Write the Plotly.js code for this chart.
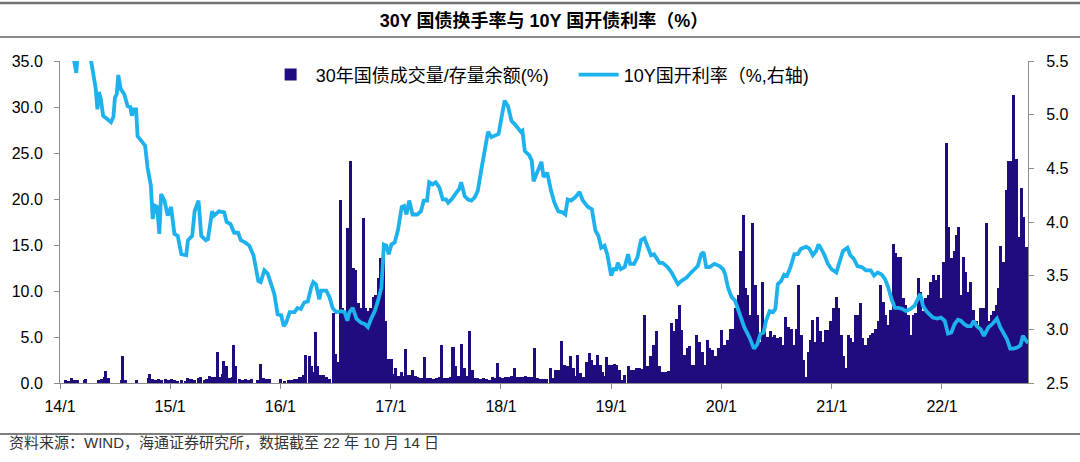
<!DOCTYPE html>
<html><head><meta charset="utf-8">
<script src="https://cdn.plot.ly/plotly-3.0.1.min.js"></script>
<style>html,body{margin:0;padding:0;background:#fff}#chart{width:1080px;height:462px}</style>
</head><body><div id="chart"></div>
<script>
// ---- data ----
const barDates = [
 '2014-01-20','2014-01-29','2014-02-09','2014-02-19','2014-02-28','2014-03-22','2014-03-28','2014-05-07','2014-05-17','2014-05-27','2014-06-02','2014-06-10','2014-07-23','2014-07-28','2014-08-05','2014-09-11','2014-10-21','2014-10-26','2014-11-03','2014-11-13','2014-11-23','2014-12-03','2014-12-16','2014-12-26',
 '2015-01-06','2015-01-16','2015-01-26','2015-02-08','2015-02-21','2015-03-01','2015-03-11','2015-03-24','2015-04-04','2015-04-10','2015-04-24','2015-05-03','2015-05-10','2015-05-17','2015-05-23','2015-06-03','2015-06-08','2015-06-16','2015-06-23','2015-06-28','2015-07-05','2015-07-15','2015-07-25','2015-07-30','2015-08-06','2015-08-18','2015-08-28','2015-09-07','2015-09-17','2015-09-27','2015-10-17','2015-10-27','2015-11-06','2015-11-16','2015-11-26',
 '2016-01-02','2016-01-15','2016-01-28','2016-02-08','2016-02-18','2016-02-27','2016-03-04','2016-03-10','2016-03-17','2016-03-25','2016-04-05','2016-04-13','2016-04-20','2016-04-26','2016-05-03','2016-05-13','2016-05-23','2016-06-02','2016-06-12','2016-06-24','2016-07-02','2016-07-10','2016-07-18','2016-07-26','2016-08-04','2016-08-12','2016-08-21','2016-08-29','2016-09-07','2016-09-15','2016-09-23','2016-10-01','2016-10-09','2016-10-18','2016-10-26','2016-11-04','2016-11-12','2016-11-20','2016-11-29','2016-12-07','2016-12-15','2016-12-23',
 '2017-01-02','2017-01-10','2017-01-18','2017-01-26','2017-02-04','2017-02-12','2017-02-20','2017-02-28','2017-03-07','2017-03-15','2017-03-23','2017-04-01','2017-04-09','2017-04-17','2017-04-24','2017-05-02','2017-05-12','2017-05-22','2017-06-01','2017-06-11','2017-06-18','2017-06-28','2017-07-07','2017-07-17','2017-07-26','2017-08-03','2017-08-13','2017-08-23','2017-09-01','2017-09-09','2017-09-19','2017-09-27','2017-10-05','2017-10-15','2017-10-25','2017-11-05','2017-11-15','2017-11-25','2017-12-04','2017-12-14','2017-12-19','2017-12-27',
 '2018-01-07','2018-01-17','2018-01-27','2018-02-06','2018-02-15','2018-02-23','2018-03-02','2018-03-12','2018-03-22','2018-04-02','2018-04-12','2018-04-22','2018-05-01','2018-05-11','2018-05-21','2018-06-01','2018-06-14','2018-06-24','2018-06-30','2018-07-10','2018-07-20','2018-07-30','2018-08-09','2018-08-19','2018-08-29','2018-09-06','2018-09-12','2018-09-22','2018-10-02','2018-10-10','2018-10-20','2018-10-28','2018-11-06','2018-11-16','2018-11-25','2018-12-03','2018-12-11','2018-12-18','2018-12-26',
 '2019-01-03','2019-01-11','2019-01-19','2019-01-28','2019-02-06','2019-02-15','2019-02-27','2019-03-05','2019-03-15','2019-03-25','2019-04-04','2019-04-14','2019-04-22','2019-04-30','2019-05-11','2019-05-22','2019-06-01','2019-06-11','2019-06-19','2019-06-29','2019-07-09','2019-07-19','2019-07-27','2019-08-05','2019-08-15','2019-08-23','2019-09-02','2019-09-11','2019-09-19','2019-09-27','2019-10-05','2019-10-12','2019-10-20','2019-10-30','2019-11-08','2019-11-16','2019-11-24','2019-12-02','2019-12-12','2019-12-22',
 '2020-01-02','2020-01-12','2020-01-22','2020-02-02','2020-02-10','2020-02-18','2020-02-26','2020-03-04','2020-03-13','2020-03-21','2020-03-29','2020-04-07','2020-04-14','2020-04-22','2020-04-29','2020-05-07','2020-05-15','2020-05-23','2020-06-03','2020-06-13','2020-06-20','2020-06-26','2020-07-05','2020-07-15','2020-07-22','2020-08-01','2020-08-11','2020-08-21','2020-08-28','2020-09-06','2020-09-12','2020-09-21','2020-09-29','2020-10-07','2020-10-15','2020-10-22','2020-10-30','2020-11-08','2020-11-16','2020-11-24','2020-12-02','2020-12-11','2020-12-19','2020-12-27',
 '2021-01-07','2021-01-15','2021-01-23','2021-02-01','2021-02-09','2021-02-17','2021-02-25','2021-03-04','2021-03-12','2021-03-20','2021-03-29','2021-04-06','2021-04-14','2021-04-23','2021-05-01','2021-05-09','2021-05-17','2021-05-26','2021-06-04','2021-06-12','2021-06-20','2021-06-28','2021-07-06','2021-07-15','2021-07-23','2021-08-01','2021-08-09','2021-08-17','2021-08-26','2021-09-03','2021-09-11','2021-09-20','2021-09-28','2021-10-06','2021-10-14','2021-10-22','2021-11-01','2021-11-09','2021-11-17','2021-11-25','2021-12-03','2021-12-12','2021-12-20','2021-12-28',
 '2022-01-06','2022-01-16','2022-01-24','2022-02-02','2022-02-10','2022-02-18','2022-02-26','2022-03-05','2022-03-13','2022-03-21','2022-03-29','2022-04-07','2022-04-16','2022-04-24','2022-05-02','2022-05-10','2022-05-18','2022-05-27','2022-06-05','2022-06-13','2022-06-21','2022-06-29','2022-07-07','2022-07-15','2022-07-24','2022-08-02','2022-08-10','2022-08-18','2022-08-26','2022-09-04','2022-09-12','2022-09-20','2022-09-29','2022-10-07'
];
const barValues = [
 0.3,0.2,0.5,0.3,0.3,0.3,0.4,0.3,0.4,0.6,1.35,0.5,0.3,2.9,0.3,0.3,0.5,1.0,0.4,0.3,0.4,0.3,0.4,0.3,
 0.4,0.3,0.2,0.3,0.2,0.5,0.4,0.3,0.5,0.7,0.3,0.4,0.75,0.7,0.6,0.7,3.4,0.7,1.0,2.4,1.8,0.5,0.6,4.1,1.9,0.4,0.3,0.4,0.3,0.4,0.3,2.1,0.5,0.4,0.4,
 0.4,0.2,0.3,0.3,0.4,0.4,0.6,0.7,0.9,3.0,2.9,1.8,1.2,5.5,1.8,0.9,0.9,0.7,0.4,7.6,3.2,2.3,19.9,8.1,7.8,16.8,24.1,12.5,12.3,8.7,8.1,17.9,8.1,7.8,8.1,9.4,9.6,11.4,13.6,13.7,6.7,2.6,
 2.6,1.0,1.6,0.8,1.2,0.8,3.7,0.9,0.9,1.4,0.8,0.6,0.5,0.5,2.8,0.5,0.5,0.4,0.5,0.6,4.1,0.5,0.5,0.6,3.9,1.8,0.8,4.2,1.6,0.8,5.6,1.4,0.5,0.5,0.4,0.5,0.4,0.3,0.6,0.5,2.2,0.6,
 0.5,0.7,0.6,0.8,1.6,0.7,0.7,0.6,0.8,0.7,0.7,3.8,0.5,0.4,0.4,0.4,1.6,0.5,1.4,1.4,4.6,2.0,1.8,2.9,1.6,0.8,3.0,1.1,0.7,2.3,3.3,2.5,2.0,3.0,2.0,1.2,0.8,2.8,2.0,
 2.0,2.1,2.0,1.4,0.3,0.9,1.8,1.4,1.4,1.6,1.6,1.5,7.4,1.8,2.9,4.1,5.6,1.8,1.2,1.2,1.3,6.5,5.6,7.0,8.5,5.8,3.0,3.8,4.0,2.0,2.0,5.2,4.5,3.4,2.0,4.7,3.8,3.6,2.9,3.8,
 5.8,4.1,4.7,5.9,5.9,8.1,9.6,14.3,18.3,10.3,9.6,7.4,17.4,10.7,7.4,4.5,11.0,5.6,5.0,5.6,5.0,5.2,4.9,5.0,4.1,7.2,6.1,5.9,4.1,5.9,10.7,5.2,2.5,0.7,3.4,4.7,6.8,4.5,7.2,5.6,4.5,5.8,5.8,6.7,
 8.1,9.3,8.1,5.2,2.9,1.6,5.2,4.9,4.5,7.4,7.4,8.7,4.9,4.1,4.9,5.2,5.4,5.9,6.7,10.7,8.8,7.4,6.3,7.9,15.1,14.1,13.7,13.7,9.2,8.5,7.4,5.2,7.4,7.6,11.4,9.9,7.8,9.2,9.6,11.0,11.7,11.2,11.7,9.2,
 13.2,26.1,17.0,13.6,14.3,16.1,17.0,9.6,13.7,12.1,9.9,11.0,7.9,6.7,6.3,8.1,8.1,17.4,6.7,7.4,7.8,8.5,10.3,14.9,13.2,21.0,24.1,24.1,31.3,24.3,15.9,21.2,18.0,14.8
];
const lineDates = [
 '2014-01-01','2014-01-19','2014-02-09','2014-02-24','2014-03-02','2014-03-21','2014-04-14','2014-04-29','2014-05-05','2014-05-10','2014-05-16','2014-05-24','2014-06-08','2014-06-19','2014-06-27','2014-07-02','2014-07-08','2014-07-13','2014-07-21','2014-08-02','2014-08-13','2014-08-22','2014-08-27','2014-09-02','2014-09-10','2014-09-15','2014-10-02','2014-10-10','2014-10-18','2014-10-29','2014-11-04','2014-11-12','2014-11-19','2014-11-26','2014-12-02','2014-12-13','2014-12-24',
 '2015-01-04','2015-01-15','2015-01-26','2015-02-07','2015-02-23','2015-03-01','2015-03-15','2015-03-23','2015-04-05','2015-04-14','2015-04-29','2015-05-06','2015-05-20','2015-05-26','2015-06-12','2015-06-29','2015-07-07','2015-07-20','2015-08-01','2015-08-14','2015-08-23','2015-09-06','2015-09-20','2015-10-04','2015-10-20','2015-10-28','2015-11-09','2015-11-20','2015-12-01','2015-12-12','2015-12-23',
 '2016-01-04','2016-01-12','2016-01-20','2016-02-01','2016-02-17','2016-02-27','2016-03-09','2016-03-20','2016-04-01','2016-04-12','2016-04-19','2016-04-28','2016-05-09','2016-05-15','2016-06-01','2016-06-12','2016-06-22','2016-07-04','2016-07-20','2016-08-01','2016-08-10','2016-08-17','2016-08-28','2016-09-09','2016-09-25','2016-10-06','2016-10-17','2016-10-28','2016-11-09','2016-11-19','2016-12-01','2016-12-09','2016-12-17','2016-12-25',
 '2017-01-03','2017-01-14','2017-01-25','2017-02-06','2017-02-14','2017-02-22','2017-03-03','2017-03-14','2017-03-30','2017-04-11','2017-04-20','2017-05-01','2017-05-08','2017-05-19','2017-05-30','2017-06-11','2017-06-22','2017-07-03','2017-07-10','2017-07-21','2017-08-06','2017-08-16','2017-08-22','2017-09-03','2017-09-14','2017-09-25','2017-10-06','2017-10-16','2017-10-28','2017-11-08','2017-11-19','2017-11-30','2017-12-11','2017-12-24',
 '2018-01-02','2018-01-13','2018-01-24','2018-02-05','2018-02-16','2018-02-25','2018-03-08','2018-03-13','2018-03-21','2018-04-05','2018-04-13','2018-04-19','2018-04-30','2018-05-08','2018-05-15','2018-05-22','2018-06-03','2018-06-16','2018-06-27','2018-07-10','2018-07-24','2018-08-02','2018-08-10','2018-08-21','2018-09-04','2018-09-18','2018-09-29','2018-10-16','2018-10-29','2018-11-10','2018-11-20','2018-11-29','2018-12-10','2018-12-19',
 '2019-01-01','2019-01-09','2019-01-18','2019-01-23','2019-02-02','2019-02-15','2019-02-26','2019-03-05','2019-03-18','2019-03-29','2019-04-10','2019-04-21','2019-05-01','2019-05-13','2019-05-23','2019-06-10','2019-06-20','2019-07-07','2019-07-20','2019-07-29','2019-08-10','2019-08-21','2019-09-07','2019-09-23','2019-10-04','2019-10-15','2019-10-26','2019-11-03','2019-11-12','2019-11-23','2019-12-09','2019-12-26',
 '2020-01-07','2020-01-14','2020-01-23','2020-02-04','2020-02-15','2020-02-23','2020-03-07','2020-03-17','2020-04-04','2020-04-18','2020-04-29','2020-05-10','2020-05-20','2020-05-28','2020-06-09','2020-06-20','2020-06-28','2020-07-06','2020-07-17','2020-07-27','2020-08-06','2020-08-17','2020-08-30','2020-09-10','2020-09-21','2020-10-08','2020-10-19','2020-10-30','2020-11-10','2020-11-18','2020-11-27','2020-12-08','2020-12-19','2020-12-31',
 '2021-01-16','2021-01-27','2021-02-07','2021-02-22','2021-03-03','2021-03-14','2021-03-27','2021-04-10','2021-04-24','2021-05-10','2021-05-21','2021-06-02','2021-06-15','2021-06-26','2021-07-07','2021-07-18','2021-07-29','2021-08-10','2021-08-23','2021-09-04','2021-09-19','2021-10-02','2021-10-13','2021-10-21','2021-10-30','2021-11-10','2021-11-21','2021-12-02','2021-12-16','2021-12-29',
 '2022-01-10','2022-01-21','2022-02-01','2022-02-12','2022-02-23','2022-03-04','2022-03-15','2022-03-26','2022-04-07','2022-04-16','2022-04-26','2022-05-09','2022-05-20','2022-06-04','2022-06-17','2022-07-02','2022-07-13','2022-07-24','2022-08-04','2022-08-15','2022-08-26','2022-09-07','2022-09-18','2022-09-26','2022-10-03','2022-10-13'
];
const lineValues = [
 5.80,5.72,5.62,5.39,5.62,5.75,5.50,5.25,5.05,5.21,5.15,4.99,4.96,4.93,4.98,5.16,5.19,5.37,5.24,5.19,5.08,5.07,4.99,5.05,5.05,4.80,4.74,4.71,4.51,4.34,4.03,4.15,4.14,3.89,4.26,4.20,4.06,
 4.14,3.89,3.87,3.70,3.69,3.83,3.87,4.10,4.20,3.87,3.83,3.84,4.10,4.06,4.10,4.09,4.00,3.98,3.90,3.90,3.83,3.81,3.78,3.69,3.45,3.44,3.55,3.52,3.41,3.33,3.14,
 3.13,3.03,3.06,3.16,3.16,3.20,3.19,3.25,3.26,3.39,3.44,3.42,3.28,3.36,3.36,3.30,3.20,3.16,3.17,3.16,3.08,3.16,3.20,3.10,3.06,3.05,3.02,3.10,3.17,3.26,3.39,3.79,3.78,3.70,
 3.79,3.81,3.93,4.14,4.15,4.07,4.20,4.07,4.07,4.10,4.20,4.20,4.37,4.35,4.37,4.32,4.21,4.21,4.18,4.21,4.28,4.31,4.37,4.24,4.21,4.20,4.23,4.29,4.49,4.66,4.84,4.79,4.80,4.82,
 4.96,5.13,5.08,4.94,4.91,4.88,4.84,4.85,4.66,4.62,4.57,4.38,4.45,4.52,4.56,4.42,4.46,4.29,4.18,4.10,4.09,4.07,4.21,4.20,4.23,4.28,4.20,4.14,4.12,3.92,3.87,3.76,3.78,3.70,
 3.50,3.56,3.56,3.62,3.56,3.58,3.70,3.61,3.61,3.67,3.83,3.85,3.78,3.69,3.70,3.62,3.62,3.58,3.53,3.48,3.42,3.45,3.48,3.53,3.56,3.59,3.70,3.72,3.58,3.58,3.61,3.59,
 3.56,3.51,3.39,3.30,3.27,3.20,3.08,3.02,2.92,2.82,2.86,2.96,2.97,3.08,3.17,3.16,3.19,3.42,3.45,3.51,3.50,3.58,3.70,3.70,3.75,3.77,3.75,3.69,3.73,3.79,3.75,3.69,3.61,3.56,
 3.53,3.64,3.73,3.76,3.69,3.66,3.59,3.58,3.55,3.55,3.50,3.53,3.51,3.47,3.39,3.28,3.20,3.20,3.19,3.17,3.19,3.22,3.28,3.33,3.22,3.17,3.14,3.11,3.10,3.11,
 3.08,2.96,2.97,3.05,3.09,3.08,3.05,3.03,3.03,3.08,3.03,3.00,2.94,3.02,3.05,3.10,3.02,2.96,2.91,2.82,2.82,2.83,2.85,2.94,2.91,2.87
];
const yearTicks = ['2014-01-01','2015-01-01','2016-01-01','2017-01-01','2018-01-01','2019-01-01','2020-01-01','2021-01-01','2022-01-01'];
const yearLabels = ['14/1','15/1','16/1','17/1','18/1','19/1','20/1','21/1','22/1'];
const barName = '30年国债成交量/存量余额(%)\u00a0\u00a0\u00a0\u00a0';
const lineName = '10Y国开利率（%,右轴)';
const titleText = '30Y 国债换手率与 10Y 国开债利率（%）';
const sourceText = '资料来源：WIND，海通证券研究所，数据截至 22 年 10 月 14 日';

if (barDates.length !== barValues.length) console.error('bar length mismatch', barDates.length, barValues.length);
if (lineDates.length !== lineValues.length) console.error('line length mismatch', lineDates.length, lineValues.length);

// ---- chart ----
const FONT = 'Liberation Sans, Noto Sans CJK SC, sans-serif';
const DAY = 86400000;

const traces = [
  {
    type: 'bar', name: barName, x: barDates, y: barValues,
    width: 10 * DAY,
    marker: { color: '#200C7E', line: { width: 0 } },
    yaxis: 'y', hoverinfo: 'x+y'
  },
  {
    type: 'scatter', mode: 'lines', name: lineName, x: lineDates, y: lineValues,
    line: { color: '#1DB1ED', width: 3.8 },
    yaxis: 'y2', hoverinfo: 'x+y'
  }
];

const axisCommon = {
  showgrid: false, zeroline: false, showline: true, linecolor: '#8c8c8c', linewidth: 1,
  ticks: 'outside', ticklen: 5, tickcolor: '#8c8c8c', tickwidth: 1,
  tickfont: { family: FONT, size: 16, color: '#000' }
};

const layout = {
  width: 1080, height: 462,
  margin: { l: 60, r: 52, t: 61, b: 79, pad: 0 },
  paper_bgcolor: '#fff', plot_bgcolor: '#fff',
  font: { family: FONT, color: '#000' },
  title: {
    text: titleText, x: 0.5, xanchor: 'center', xref: 'paper',
    y: 1 - 21 / 462, yref: 'container', yanchor: 'middle',
    font: { family: FONT, size: 18, color: '#000', weight: 'bold' }
  },
  showlegend: true,
  legend: {
    orientation: 'h', x: 0.496, xanchor: 'center', y: 0.957, yanchor: 'middle',
    font: { family: FONT, size: 18, color: '#000' },
    itemwidth: 40,
    bgcolor: 'rgba(0,0,0,0)', traceorder: 'normal'
  },
  bargap: 0,
  xaxis: Object.assign({}, axisCommon, {
    type: 'date', range: ['2014-01-01', '2022-10-13'],
    tickmode: 'array', tickvals: yearTicks, ticktext: yearLabels,
    ticklabelstandoff: 4
  }),
  yaxis: Object.assign({}, axisCommon, {
    range: [0, 35], tickmode: 'linear', tick0: 0, dtick: 5, tickformat: '.1f',
    ticklabelstandoff: 8
  }),
  yaxis2: Object.assign({}, axisCommon, {
    overlaying: 'y', side: 'right',
    range: [2.5, 5.5], tickmode: 'linear', tick0: 2.5, dtick: 0.5, tickformat: '.1f',
    ticklabelstandoff: 9
  }),
  shapes: [
    { type: 'line', xref: 'paper', yref: 'paper', x0: -0.062, x1: 1.054, y0: (383 - 3) / 322, y1: (383 - 3) / 322, line: { color: '#707070', width: 2.5 } },
    { type: 'line', xref: 'paper', yref: 'paper', x0: -0.062, x1: 1.054, y0: (383 - 37) / 322, y1: (383 - 37) / 322, line: { color: '#8a8a8a', width: 2 } },
    { type: 'line', xref: 'paper', yref: 'paper', x0: -0.062, x1: 1.054, y0: (383 - 434) / 322, y1: (383 - 434) / 322, line: { color: '#555', width: 1.5 } }
  ],
  annotations: [
    { text: sourceText, xref: 'paper', yref: 'paper', x: (7 - 60) / 968, xanchor: 'left', y: (383 - 443) / 322, yanchor: 'middle',
      showarrow: false, font: { family: FONT, size: 15, color: '#333' } }
  ]
};

Plotly.newPlot('chart', traces, layout, { displayModeBar: false, staticPlot: true });
</script>
</body></html>
